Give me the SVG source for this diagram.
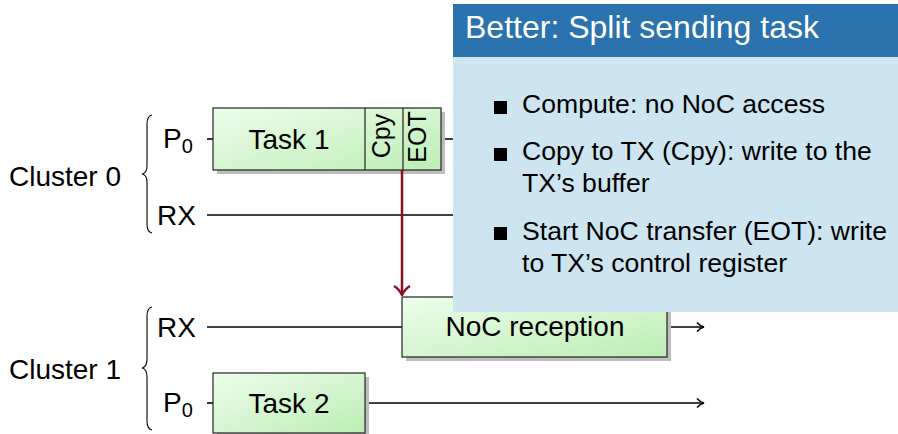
<svg xmlns="http://www.w3.org/2000/svg" width="898" height="434" viewBox="0 0 898 434">
  <defs>
    <linearGradient id="taskFill" x1="0" y1="0" x2="1" y2="1">
      <stop offset="0" stop-color="#edfdeb"/>
      <stop offset="1" stop-color="#bdeeb5"/>
    </linearGradient>
    <marker id="arrowBlack" viewBox="0 0 12 12" refX="11" refY="6" markerWidth="12" markerHeight="12" markerUnits="userSpaceOnUse" orient="auto">
      <path d="M4,1.5 Q7,5 11,6 Q7,7 4,10.5" fill="none" stroke="#000" stroke-width="1.5"/>
    </marker>
    <marker id="arrowRed" viewBox="0 0 20 12" refX="10" refY="11" markerWidth="20" markerHeight="12" markerUnits="userSpaceOnUse" orient="0">
      <path d="M2,2 Q7,5 10,11 Q13,5 18,2" fill="none" stroke="#8e0f1c" stroke-width="2.5"/>
    </marker>
  </defs>
  <style>
    text { font-family: "Liberation Sans", Arial, Helvetica, sans-serif; fill: #000; }
    .lbl { font-size: 28px; }
    .sub { font-size: 20px; }
    .box { fill: url(#taskFill); stroke: #222; stroke-width: 1.2; }
    .shadow { fill: #bdbdbd; }
    .line { stroke: #000; stroke-width: 1.6; fill: none; }
    .brace { stroke: #000; stroke-width: 1.1; fill: none; }
    .vert { font-size: 25px; }
    .bul { font-size: 26.6px; }
  </style>

  <!-- cluster labels and braces -->
  <g id="cluster0">
    <text class="lbl" x="9" y="186">Cluster 0</text>
    <path class="brace" d="M152,115 Q147,116 147,124 L147,166 Q147,173 142,174 Q147,175 147,182 L147,224 Q147,232 152,233"/>
    <text class="lbl" x="163" y="148">P<tspan class="sub" dy="5">0</tspan></text>
    <text class="lbl" x="157" y="225">RX</text>
  </g>
  <g id="cluster1">
    <text class="lbl" x="9" y="379">Cluster 1</text>
    <path class="brace" d="M152,307 Q147,308 147,316 L147,359 Q147,367 142,368 Q147,369 147,377 L147,421 Q147,429 152,430"/>
    <text class="lbl" x="157" y="337">RX</text>
    <text class="lbl" x="163" y="412">P<tspan class="sub" dy="5">0</tspan></text>
  </g>

  <!-- timelines -->
  <g id="connectors">
    <line class="line" x1="207" y1="139" x2="213" y2="139"/>
    <line class="line" x1="441" y1="139" x2="704" y2="139" marker-end="url(#arrowBlack)"/>
    <line class="line" x1="207" y1="215" x2="704" y2="215" marker-end="url(#arrowBlack)"/>
    <line class="line" x1="207" y1="327" x2="402" y2="327"/>
    <line class="line" x1="667" y1="327" x2="704" y2="327" marker-end="url(#arrowBlack)"/>
    <line class="line" x1="207" y1="403" x2="213" y2="403"/>
    <line class="line" x1="365" y1="403" x2="704" y2="403" marker-end="url(#arrowBlack)"/>
  </g>

  <!-- sending task: compute, copy, end of transfer -->
  <g id="task1">
    <rect class="shadow" x="217" y="112" width="228" height="62"/>
    <rect class="box" x="213" y="108" width="228" height="62"/>
    <line x1="365" y1="108" x2="365" y2="170" stroke="#222" stroke-width="1.2"/>
    <line x1="403" y1="108" x2="403" y2="170" stroke="#222" stroke-width="1.2"/>
    <text class="lbl" x="289" y="149" text-anchor="middle">Task 1</text>
    <text class="vert" transform="translate(390,136) rotate(-90)" text-anchor="middle">Cpy</text>
    <text class="vert" transform="translate(426,137) rotate(-90)" text-anchor="middle">EOT</text>
  </g>

  <g id="noc-reception">
    <rect class="shadow" x="406" y="301" width="265" height="60"/>
    <rect class="box" x="402" y="297" width="265" height="60"/>
    <text class="lbl" x="535" y="336" text-anchor="middle">NoC reception</text>
  </g>

  <g id="task2">
    <rect class="shadow" x="217" y="377" width="152" height="60"/>
    <rect class="box" x="213" y="373" width="152" height="60"/>
    <text class="lbl" x="289" y="413" text-anchor="middle">Task 2</text>
  </g>

  <!-- transfer from EOT to the receiving side -->
  <g id="transfer">
    <line x1="402" y1="170" x2="402" y2="295" stroke="#8e0f1c" stroke-width="2.5" marker-end="url(#arrowRed)"/>
  </g>

  <!-- explanation block -->
  <g id="callout">
    <rect x="453" y="57" width="445" height="255" fill="#cde4f1"/>
    <rect x="453" y="4" width="445" height="53" fill="#2a73ae"/>
    <text x="465" y="38" font-size="32" style="fill:#fff">Better: Split sending task</text>
    <rect x="494" y="101" width="13" height="13" fill="#000"/>
    <text class="bul" x="522" y="113">Compute: no NoC access</text>
    <rect x="494" y="148" width="13" height="13" fill="#000"/>
    <text class="bul" x="522" y="160">Copy to TX (Cpy): write to the</text>
    <text class="bul" x="522" y="192">TX’s buffer</text>
    <rect x="494" y="227" width="13" height="13" fill="#000"/>
    <text class="bul" x="522" y="240">Start NoC transfer (EOT): write</text>
    <text class="bul" x="522" y="272">to TX’s control register</text>
  </g>
</svg>
